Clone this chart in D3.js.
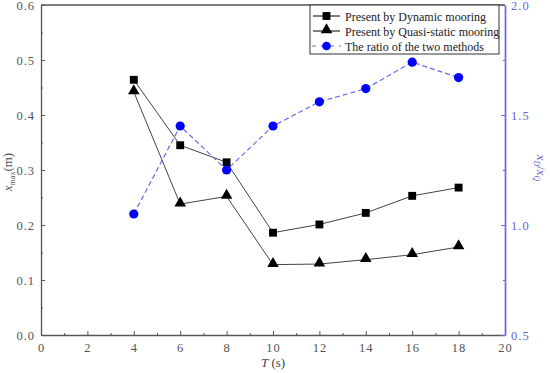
<!DOCTYPE html>
<html>
<head>
<meta charset="utf-8">
<script src="https://cdn.jsdelivr.net/npm/d3@7"></script>
<style>
  body { margin: 0; background: #fff; }
  svg text { font-family: "Liberation Serif", "DejaVu Serif", serif; }
</style>
</head>
<body>
<svg id="chart" width="550" height="373"></svg>
<script>
// --- Data ---
const periods = [4, 6, 8, 10, 12, 14, 16, 18];
const dynamicMax = [0.464, 0.345, 0.314, 0.186, 0.201, 0.222, 0.253, 0.268];
const quasiMax = [0.442, 0.238, 0.252, 0.128, 0.129, 0.137, 0.146, 0.160];
const ratio = [1.05, 1.45, 1.25, 1.45, 1.56, 1.62, 1.74, 1.67];
const xTicks = [0, 2, 4, 6, 8, 10, 12, 14, 16, 18, 20];
const yTicks = [0, 0.1, 0.2, 0.3, 0.4, 0.5, 0.6];
const y2Ticks = [0.5, 1.0, 1.5, 2.0];
const legendLabels = ['Present by Dynamic mooring', 'Present by Quasi-static mooring', 'The ratio of the two methods'];

// --- Colors ---
const axisColor = '#555';
const lineColor = '#444';
const blueAxis = '#6666dd';
const blueLine = '#6a6ae8';
const blueMark = '#0000ff';

// --- Layout ---
const margin = { top: 5, right: 45, bottom: 38, left: 41 };
const width = 550 - margin.left - margin.right;
const height = 373 - margin.top - margin.bottom;
const serif = '"Liberation Serif", "DejaVu Serif", serif';

const svg = d3.select('#chart');
const g = svg.append('g').attr('transform', `translate(${margin.left},${margin.top})`);

const x = d3.scaleLinear().domain([0, 20]).range([0, width]);
const y = d3.scaleLinear().domain([0, 0.6]).range([height, 0]);
const y2 = d3.scaleLinear().domain([0.5, 2.0]).range([height, 0]);

// --- Axes (ticks inward) ---
const xAxis = g.append('g').attr('transform', `translate(0,${height})`)
    .call(d3.axisBottom(x).tickValues(xTicks).tickSizeInner(-4).tickSizeOuter(0).tickPadding(8).tickFormat(d3.format('d')));
g.append('g').attr('transform', `translate(0,${height})`)
    .call(d3.axisBottom(x).tickValues(d3.range(1, 20, 2)).tickSize(-2).tickFormat(''))
    .call(a => a.select('.domain').remove());

const yAxis = g.append('g')
    .call(d3.axisLeft(y).tickValues(yTicks).tickSizeInner(-4).tickSizeOuter(0).tickPadding(6).tickFormat(d3.format('.1f')));
g.append('g')
    .call(d3.axisLeft(y).tickValues(d3.range(0.05, 0.6, 0.1)).tickSize(-2).tickFormat(''))
    .call(a => a.select('.domain').remove());

const y2Axis = g.append('g').attr('transform', `translate(${width},0)`)
    .call(d3.axisRight(y2).tickValues(y2Ticks).tickSizeInner(-4).tickSizeOuter(0).tickPadding(6).tickFormat(d3.format('.1f')));
g.append('g').attr('transform', `translate(${width},0)`)
    .call(d3.axisRight(y2).tickValues([0.75, 1.25, 1.75]).tickSize(-2).tickFormat(''))
    .call(a => a.select('.domain').remove());

g.selectAll('g').attr('font-family', serif);
g.selectAll('.tick line').attr('stroke', axisColor).attr('stroke-width', 1);
[xAxis, yAxis].forEach(a => {
    a.select('.domain').attr('stroke', axisColor).attr('stroke-width', 1.3);
    a.selectAll('text').attr('fill', '#555').attr('font-size', 12.5).attr('letter-spacing', 1);
});
y2Axis.select('.domain').attr('stroke', blueAxis).attr('stroke-width', 1.7);
g.selectAll('.tick line').filter(function () {
    return this.closest('g[transform^="translate(' + width + '"]');
}).attr('stroke', blueAxis);
y2Axis.selectAll('text').attr('fill', blueAxis).attr('font-size', 12.5).attr('letter-spacing', 1);

// top border
g.append('line').attr('x1', 0).attr('x2', width).attr('y1', 0).attr('y2', 0)
    .attr('stroke', axisColor).attr('stroke-width', 1.3);

// --- Axis labels ---
const yl = g.append('text').attr('transform', `translate(-29,${height / 2 + 2}) rotate(-90)`)
    .attr('text-anchor', 'middle').attr('fill', '#555').style('font-size', '13px');
yl.append('tspan').style('font-style', 'italic').text('x');
yl.append('tspan').attr('dy', 3).style('font-size', '8px').text('max');
yl.append('tspan').attr('dy', -3).text('(m)');

const xl = g.append('text').attr('x', width / 2).attr('y', height + 32)
    .attr('text-anchor', 'middle').attr('fill', '#444').style('font-size', '13px');
xl.append('tspan').style('font-style', 'italic').text('T');
xl.append('tspan').text(' (s)');

const y2l = g.append('text').attr('transform', `translate(${width + 32},${height / 2 - 2}) rotate(90)`)
    .attr('text-anchor', 'middle').attr('fill', blueAxis).style('font-size', '13px');
y2l.append('tspan').style('font-style', 'italic').text('x');
y2l.append('tspan').attr('dy', 3).style('font-size', '8px').style('font-style', 'italic').text('D');
y2l.append('tspan').attr('dy', -3).text('/');
y2l.append('tspan').style('font-style', 'italic').text('x');
y2l.append('tspan').attr('dy', 3).style('font-size', '8px').style('font-style', 'italic').text('Q');

// --- Series ---
const line = d3.line().x((d, i) => x(periods[i])).y(d => y(d));
const line2 = d3.line().x((d, i) => x(periods[i])).y(d => y2(d));

g.append('path').datum(dynamicMax).attr('d', line).attr('fill', 'none').attr('stroke', lineColor).attr('stroke-width', 1);
g.append('path').datum(quasiMax).attr('d', line).attr('fill', 'none').attr('stroke', lineColor).attr('stroke-width', 1);
g.append('path').datum(ratio).attr('d', line2).attr('fill', 'none').attr('stroke', blueLine)
    .attr('stroke-width', 1.2).attr('stroke-dasharray', '5,3');

const square = d3.symbol().type(d3.symbolSquare).size(62);
const triangle = d3.symbol().type(d3.symbolTriangle).size(58);

g.selectAll('.sq').data(dynamicMax).enter().append('path')
    .attr('d', square).attr('transform', (d, i) => `translate(${x(periods[i])},${y(d)})`).attr('fill', '#000');
g.selectAll('.tri').data(quasiMax).enter().append('path')
    .attr('d', triangle).attr('transform', (d, i) => `translate(${x(periods[i])},${y(d) - 1})`).attr('fill', '#000');
g.selectAll('.dot').data(ratio).enter().append('circle')
    .attr('cx', (d, i) => x(periods[i])).attr('cy', d => y2(d)).attr('r', 4.6).attr('fill', blueMark);

// --- Legend ---
const lg = g.append('g').attr('transform', `translate(${310 - margin.left},0)`);
lg.append('rect').attr('x', 0).attr('y', 0).attr('width', 189).attr('height', 49)
    .attr('fill', '#fff').attr('stroke', '#333').attr('stroke-width', 1);
legendLabels.forEach((label, i) => {
    const ly = 11 + i * 15;
    const row = lg.append('g').attr('transform', `translate(0,${ly})`);
    if (i < 2) {
        row.append('line').attr('x1', 3).attr('x2', 30).attr('stroke', '#000').attr('stroke-width', 1);
        row.append('path').attr('d', i === 0 ? square : triangle)
            .attr('transform', `translate(16.5,${i === 0 ? 0 : -1})`).attr('fill', '#000');
    } else {
        row.append('line').attr('x1', 2).attr('x2', 31).attr('stroke', blueLine)
            .attr('stroke-width', 1.2).attr('stroke-dasharray', '4,5');
        row.append('circle').attr('cx', 16.5).attr('cy', 0).attr('r', 4.3).attr('fill', blueMark);
    }
    row.append('text').attr('x', 35).attr('y', 4.5).attr('fill', '#222').style('font-size', '12px').text(label);
});
</script>
</body>
</html>
